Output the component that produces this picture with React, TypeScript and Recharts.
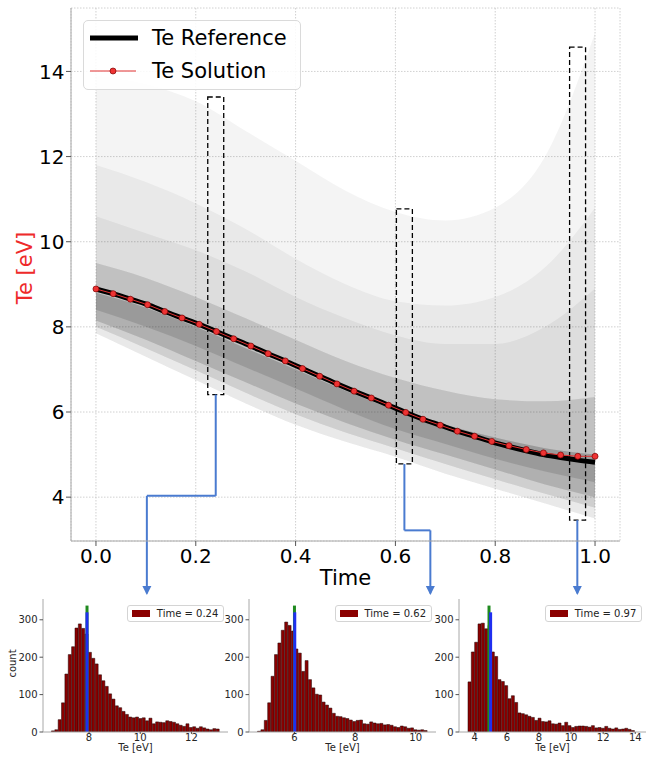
import React from "react";
import {
  ComposedChart,
  Line,
  Area,
  Bar,
  XAxis,
  YAxis,
  CartesianGrid,
  ReferenceArea,
  ReferenceLine,
  ReferenceDot,
  Legend,
} from "recharts";

const FONT = "'DejaVu Sans', sans-serif";

// ---------- ensemble envelope ----------
const bandTimes = [0, 0.1, 0.2, 0.3, 0.4, 0.5, 0.6, 0.7, 0.8, 0.9, 1.0];
const ensMin = [7.85, 7.3, 6.75, 6.2, 5.7, 5.3, 4.95, 4.55, 4.2, 3.85, 3.5];
const ensP05 = [8.0, 7.5, 6.98, 6.45, 5.95, 5.52, 5.15, 4.78, 4.42, 4.08, 3.75];
const ensP10 = [8.15, 7.7, 7.2, 6.7, 6.2, 5.75, 5.35, 5.0, 4.65, 4.3, 4.0];
const ensP25 = [8.4, 8.0, 7.55, 7.05, 6.55, 6.05, 5.6, 5.25, 4.9, 4.6, 4.35];
const ensP50 = [8.8, 8.45, 8.0, 7.5, 7.0, 6.5, 6.05, 5.7, 5.4, 5.15, 5.0];
const ensP75 = [9.5, 9.15, 8.7, 8.2, 7.7, 7.2, 6.8, 6.5, 6.3, 6.25, 6.35];
const ensP90 = [10.6, 10.2, 9.8, 9.3, 8.7, 8.2, 7.8, 7.6, 7.6, 8.0, 8.9];
const ensP95 = [11.8, 11.4, 10.9, 10.3, 9.6, 9.0, 8.6, 8.5, 8.7, 9.4, 10.8];
const ensMax = [13.9, 13.7, 13.3, 12.6, 11.9, 11.2, 10.7, 10.5, 10.8, 12.0, 14.9];

// ---------- reference & solution curves ----------
const solTimes = [
  0, 0.0345, 0.069, 0.1034, 0.1379, 0.1724, 0.2069, 0.2414, 0.2759, 0.3103,
  0.3448, 0.3793, 0.4138, 0.4483, 0.4828, 0.5172, 0.5517, 0.5862, 0.6207,
  0.6552, 0.6897, 0.7241, 0.7586, 0.7931, 0.8276, 0.8621, 0.8966, 0.931,
  0.9655, 1.0,
];
const teSolution = [
  8.89, 8.78, 8.65, 8.52, 8.36, 8.21, 8.06, 7.89, 7.72, 7.55, 7.37, 7.2, 7.02,
  6.84, 6.66, 6.49, 6.33, 6.16, 5.99, 5.83, 5.69, 5.55, 5.43, 5.31, 5.21, 5.12,
  5.04, 4.99, 4.96, 4.96,
];
const teReference = [
  8.89, 8.78, 8.65, 8.52, 8.36, 8.21, 8.06, 7.89, 7.72, 7.55, 7.37, 7.2, 7.02,
  6.84, 6.66, 6.49, 6.33, 6.16, 5.99, 5.83, 5.69, 5.55, 5.43, 5.3, 5.19, 5.09,
  5.0, 4.93, 4.87, 4.82,
];

// ---------- dashed boxes & connectors ----------
const boxX1 = [0.224, 0.602, 0.949];
const boxX2 = [0.256, 0.634, 0.981];
const boxLow = [6.41, 4.78, 3.46];
const boxHigh = [13.4, 10.77, 14.57];
const connectorX = [
  [0.24, 0.24, 0.102, 0.102],
  [0.618, 0.618, 0.67, 0.67],
  [0.9645, 0.9645],
];
const connectorY = [
  [6.41, 4.03, 4.03, 1.74],
  [4.78, 3.22, 3.22, 1.74],
  [3.46, 1.74],
];
const arrowTipY = 1.7;

const mainXTicks = [0, 0.2, 0.4, 0.6, 0.8, 1.0];
const mainYTicks = [4, 6, 8, 10, 12, 14];

// ---------- histograms ----------
const hist1Counts = [
  3, 6, 33, 78, 155, 207, 228, 278, 289, 277, 262, 213, 197, 182, 153, 137, 122,
  102, 88, 70, 65, 55, 47, 40, 38, 40, 36, 38, 30, 37, 22, 27, 26, 25, 30, 28,
  26, 22, 18, 15, 22, 12, 14, 10, 14, 11, 8, 6, 9, 8,
];
const hist2Counts = [
  2, 6, 31, 78, 149, 207, 238, 272, 294, 285, 270, 222, 211, 162, 191, 140, 118,
  101, 99, 80, 72, 64, 50, 42, 41, 38, 36, 32, 28, 31, 32, 22, 21, 27, 24, 22,
  23, 19, 20, 18, 14, 12, 16, 14, 10, 11, 6, 5, 6, 4,
];
const hist3Counts = [
  134, 214, 240, 289, 291, 276, 285, 214, 202, 140, 135, 124, 89, 97, 79, 51, 49,
  46, 42, 39, 31, 37, 28, 27, 30, 22, 21, 24, 17, 26, 17, 12, 15, 16, 16, 15, 13,
  17, 11, 12, 10, 15, 10, 8, 11, 7, 8, 10, 7, 4,
];
const histRanges = [
  [6.53, 13.1],
  [4.78, 10.39],
  [3.58, 13.97],
];
const histXDomains = [
  [6.2, 13.43],
  [4.5, 10.67],
  [3.02, 14.67],
];
const histXTicks = [
  [8, 10, 12],
  [6, 8, 10],
  [4, 6, 8, 10, 12, 14],
];
const histTimes = ["0.24", "0.62", "0.97"];
const histRefVals = [7.92, 6.0, 4.89];
const histSolVals = [7.92, 6.01, 4.99];
const histYTicks = [0, 100, 200, 300];
const histYMax = 355.6;
const refLineTop = 338;
const solLineTop = 320;

const SPINE = "#a8a8a8";

function MainLegend() {
  return (
    <div
      style={{
        width: 218,
        height: 70,
        boxSizing: "border-box",
        border: "1px solid #dadada",
        borderRadius: 5,
        background: "rgba(255,255,255,0.85)",
        fontFamily: FONT,
        fontSize: 21,
        color: "#000",
        paddingLeft: 6,
      }}
    >
      <div style={{ display: "flex", alignItems: "center", height: 33 }}>
        <svg width={48} height={10}>
          <line x1={0} y1={5} x2={48} y2={5} stroke="#000" strokeWidth={5} />
        </svg>
        <span style={{ marginLeft: 14 }}>Te Reference</span>
      </div>
      <div style={{ display: "flex", alignItems: "center", height: 33 }}>
        <svg width={48} height={10}>
          <line x1={0} y1={5} x2={46} y2={5} stroke="#e03030" strokeWidth={1} />
          <circle cx={23} cy={5} r={3} fill="#ee3333" stroke="#800000" strokeWidth={0.7} />
        </svg>
        <span style={{ marginLeft: 14 }}>Te Solution</span>
      </div>
    </div>
  );
}

const bandSpecs: [string, string, number][] = [
  ["mn", "mx", 0.05],
  ["mn", "p95", 0.05],
  ["p05", "p90", 0.06],
  ["p05", "p75", 0.07],
  ["p10", "p75", 0.08],
  ["p10", "p50", 0.1],
  ["p25", "p50", 0.15],
];

function MainChart() {
  const bandData = bandTimes.map((t, i) => ({
    t,
    mn: ensMin[i],
    p05: ensP05[i],
    p10: ensP10[i],
    p25: ensP25[i],
    p50: ensP50[i],
    p75: ensP75[i],
    p90: ensP90[i],
    p95: ensP95[i],
    mx: ensMax[i],
  }));
  const solData = solTimes.map((t, i) => ({ t, v: teSolution[i] }));
  const refData = solTimes.map((t, i) => ({ t, v: teReference[i] }));

  const segments: { x1: number; y1: number; x2: number; y2: number }[] = [];
  connectorX.forEach((xs, k) => {
    for (let i = 0; i < xs.length - 1; i++) {
      segments.push({ x1: xs[i], y1: connectorY[k][i], x2: xs[i + 1], y2: connectorY[k][i + 1] });
    }
  });
  const arrowXs = connectorX.map((xs) => xs[xs.length - 1]);

  const yLabel = (props: any) => {
    const vb = props.viewBox || { x: 11, y: 8, width: 60, height: 533 };
    const x = vb.x + 20.6;
    const y = vb.y + vb.height / 2 - 6.5;
    return (
      <text
        x={x}
        y={y}
        transform={`rotate(-90, ${x}, ${y})`}
        textAnchor="middle"
        fill="#ee2a2a"
        fontSize={21}
        fontFamily={FONT}
      >
        Te [eV]
      </text>
    );
  };

  return (
    <ComposedChart
      width={652}
      height={760}
      data={bandData}
      margin={{ top: 8, right: 32, bottom: 174, left: 11 }}
    >
      <CartesianGrid stroke="#c4c4c4" strokeDasharray="1.5 1.5" strokeWidth={0.8} />
      <XAxis
        dataKey="t"
        type="number"
        domain={[-0.05, 1.05]}
        ticks={mainXTicks}
        interval={0}
        allowDataOverflow
        height={45}
        tickFormatter={(v: number) => v.toFixed(1)}
        tick={{ fontSize: 20, fill: "#000", fontFamily: FONT }}
        tickSize={5}
        tickMargin={3}
        axisLine={{ stroke: SPINE }}
        tickLine={{ stroke: "#555" }}
        label={{ value: "Time", position: "insideBottom", offset: 1, fontSize: 21, fill: "#000", fontFamily: FONT }}
      />
      <YAxis
        type="number"
        domain={[2.97, 15.49]}
        ticks={mainYTicks}
        interval={0}
        allowDataOverflow
        width={60}
        tick={{ fontSize: 20, fill: "#000", fontFamily: FONT }}
        tickSize={5}
        tickMargin={1.5}
        axisLine={{ stroke: SPINE }}
        tickLine={{ stroke: "#555" }}
        label={{ content: yLabel }}
      />
      <XAxis
        xAxisId="top"
        orientation="top"
        type="number"
        domain={[0, 1]}
        height={0}
        tick={false}
        tickLine={false}
        axisLine={{ stroke: SPINE }}
      />
      <YAxis
        yAxisId="right"
        orientation="right"
        type="number"
        domain={[0, 1]}
        width={0}
        tick={false}
        tickLine={false}
        axisLine={{ stroke: SPINE }}
      />
      {bandSpecs.map(([lo, hi, op], i) => (
        <Area
          key={"band" + i}
          dataKey={(d: any) => [d[lo], d[hi]]}
          type="monotone"
          stroke="none"
          fill="#222"
          fillOpacity={op}
          isAnimationActive={false}
        />
      ))}
      <Line data={refData} dataKey="v" type="monotone" stroke="#000" strokeWidth={5} dot={false} isAnimationActive={false} />
      <Line
        data={solData}
        dataKey="v"
        type="linear"
        stroke="#e03030"
        strokeWidth={1}
        dot={{ r: 3, fill: "#ee3333", stroke: "#800000", strokeWidth: 0.7 }}
        isAnimationActive={false}
      />
      {boxX1.map((x1, i) => (
        <ReferenceArea
          key={"box" + i}
          x1={x1}
          x2={boxX2[i]}
          y1={boxLow[i]}
          y2={boxHigh[i]}
          fill="none"
          fillOpacity={0}
          stroke="#000"
          strokeWidth={1.3}
          strokeDasharray="5 3"
          ifOverflow="visible"
        />
      ))}
      {segments.map((s, i) => (
        <ReferenceLine
          key={"seg" + i}
          segment={[
            { x: s.x1, y: s.y1 },
            { x: s.x2, y: s.y2 },
          ]}
          stroke="#4a7bd0"
          strokeWidth={2}
          ifOverflow="visible"
        />
      ))}
      {arrowXs.map((x, i) => (
        <ReferenceDot
          key={"arr" + i}
          x={x}
          y={arrowTipY}
          ifOverflow="visible"
          shape={(p: any) => (
            <polygon
              points={`${p.cx - 4.5},${p.cy - 9} ${p.cx + 4.5},${p.cy - 9} ${p.cx},${p.cy}`}
              fill="#4a7bd0"
            />
          )}
        />
      ))}
      <Legend
        layout="vertical"
        align="center"
        verticalAlign="middle"
        content={() => <MainLegend />}
        wrapperStyle={{ left: 83, top: 20, width: 218, height: 70 }}
      />
    </ComposedChart>
  );
}

function HistLegend({ label }: { label: string }) {
  return (
    <div
      style={{
        display: "flex",
        alignItems: "center",
        boxSizing: "border-box",
        height: 17,
        border: "1px solid #d4d4d4",
        borderRadius: 3,
        background: "rgba(255,255,255,0.85)",
        padding: "0 5px 0 4px",
        fontFamily: FONT,
        fontSize: 10,
        color: "#222",
        whiteSpace: "nowrap",
      }}
    >
      <span style={{ display: "inline-block", width: 18, height: 7, background: "#8b0000", marginRight: 7 }} />
      {"Time = " + label}
    </div>
  );
}

function HistPanel({ idx, plotLeft, plotW, counts, showCount }: any) {
  const [lo, hi] = histRanges[idx];
  const w = (hi - lo) / counts.length;
  const data = counts.map((c: number, i: number) => ({ x: lo + (i + 0.5) * w, count: c }));
  const plotTop = 599.3;
  const plotH = 133;
  const yAxisW = 40;
  const mL = 5;
  const mT = 4;
  const mR = 4;
  const xAxisH = 12;
  const mB = 12;
  const width = mL + yAxisW + plotW + mR;
  const height = mT + plotH + xAxisH + mB;
  const tickStyle = { fontSize: 10, fill: "#262626", fontFamily: FONT };
  const countLabel = (props: any) => {
    const vb = props.viewBox || { x: mL, y: mT, width: yAxisW, height: plotH };
    const x = vb.x + 13;
    const y = vb.y + vb.height / 2 - 2;
    return (
      <text x={x} y={y} transform={`rotate(-90, ${x}, ${y})`} textAnchor="middle" fontSize={10} fill="#262626" fontFamily={FONT}>
        count
      </text>
    );
  };
  return (
    <div style={{ position: "absolute", left: plotLeft - yAxisW - mL, top: plotTop - mT }}>
      <ComposedChart
        width={width}
        height={height}
        data={data}
        margin={{ top: mT, right: mR, bottom: mB, left: mL }}
        barCategoryGap={0}
        barGap={0}
      >
        <XAxis
          dataKey="x"
          type="number"
          domain={histXDomains[idx]}
          ticks={histXTicks[idx]}
          interval={0}
          allowDataOverflow
          height={xAxisH}
          tick={tickStyle}
          tickSize={2}
          tickMargin={0}
          axisLine={{ stroke: SPINE }}
          tickLine={{ stroke: "#555" }}
          label={{ value: "Te [eV]", position: "bottom", offset: 0, fontSize: 10, fill: "#262626", fontFamily: FONT }}
        />
        <YAxis
          type="number"
          domain={[0, histYMax]}
          ticks={histYTicks}
          interval={0}
          allowDataOverflow
          width={yAxisW}
          tick={tickStyle}
          tickSize={3.5}
          tickMargin={2}
          axisLine={{ stroke: SPINE }}
          tickLine={{ stroke: "#555" }}
          label={showCount ? { content: countLabel } : undefined}
        />
        <XAxis xAxisId="top" orientation="top" type="number" domain={[0, 1]} height={0} tick={false} tickLine={false} axisLine={{ stroke: SPINE }} />
        <YAxis yAxisId="right" orientation="right" type="number" domain={[0, 1]} width={0} tick={false} tickLine={false} axisLine={{ stroke: SPINE }} />
        <Bar dataKey="count" fill="#8b0000" stroke="#1a0000" strokeWidth={0.5} isAnimationActive={false} />
        <ReferenceLine
          segment={[
            { x: histRefVals[idx], y: 0 },
            { x: histRefVals[idx], y: refLineTop },
          ]}
          stroke="#1f8a1f"
          strokeWidth={3}
          ifOverflow="visible"
        />
        <ReferenceLine
          segment={[
            { x: histSolVals[idx], y: 0 },
            { x: histSolVals[idx], y: solLineTop },
          ]}
          stroke="#1f2ff0"
          strokeWidth={3}
          ifOverflow="visible"
        />
        <Legend
          layout="vertical"
          align="center"
          verticalAlign="middle"
          content={() => <HistLegend label={histTimes[idx]} />}
          wrapperStyle={{ top: mT + 5.7, right: mR + 4, left: "auto", width: "auto" }}
        />
      </ComposedChart>
    </div>
  );
}

export default function App() {
  return (
    <div style={{ position: "absolute", left: 0, top: 0, width: 652, height: 760, background: "#fff", overflow: "hidden" }}>
      <div style={{ position: "absolute", left: 0, top: 0 }}>
        <MainChart />
      </div>
      <HistPanel idx={0} plotLeft={43.3} plotW={185} counts={hist1Counts} showCount />
      <HistPanel idx={1} plotLeft={249} plotW={187} counts={hist2Counts} showCount={false} />
      <HistPanel idx={2} plotLeft={459.3} plotW={187} counts={hist3Counts} showCount={false} />
    </div>
  );
}
